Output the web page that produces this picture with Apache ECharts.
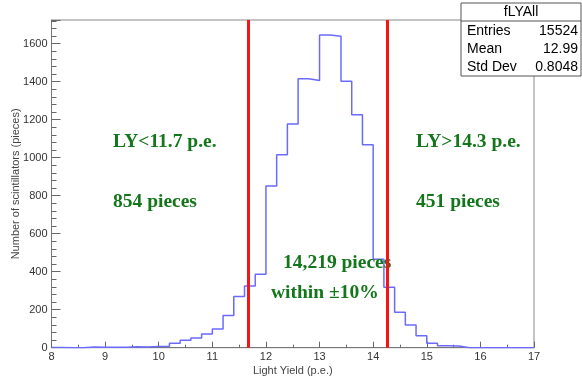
<!DOCTYPE html>
<html>
<head>
<meta charset="utf-8">
<script src="https://cdn.jsdelivr.net/npm/echarts@6/dist/echarts.min.js"></script>
<style>
	html, body { margin: 0; padding: 0; background: #fff; }
	#chart { width: 582px; height: 378px; }
</style>
</head>
<body>
<div id="chart"></div>
<script>
// histogram fLYAll: 0.2 p.e. bins from 8 to 17
const binStart = 8.0;
const binWidth = 0.2;
const counts = [
	1, 0, 0, 4, 3, 2, 2, 5, 4, 6,
	8, 23, 39, 51, 72, 98, 170, 270, 325, 386,
	851, 1016, 1177, 1416, 1407, 1646, 1640, 1402, 1226, 1068,
	465, 318, 186, 119, 63, 23, 10, 9, 0, 0,
	0, 0, 0, 0, 0
];
const cuts = [11.67, 14.26];
const statsRows = [
	["Entries", "15524"],
	["Mean", "12.99"],
	["Std Dev", "0.8048"]
];
const notes = [
	{ text: "LY<11.7 p.e.", x: 113, y: 142 },
	{ text: "854 pieces", x: 113, y: 202 },
	{ text: "LY>14.3 p.e.", x: 416, y: 142 },
	{ text: "451 pieces", x: 416, y: 202 },
	{ text: "14,219 pieces", x: 283, y: 263 },
	{ text: "within \u00b110%", x: 271, y: 293 }
];

// step line points: left edge of every bin, plus the last edge
const histPoints = counts.map((c, i) => [+(binStart + i * binWidth).toFixed(1), c]);
histPoints.push([+(binStart + counts.length * binWidth).toFixed(1), counts[counts.length - 1]]);

const myChart = echarts.init(document.getElementById("chart"));

const sans = "Liberation Sans";
const green = "#13761a";

function statsBox() {
	const left = 461, top = 3, w = 120;
	const els = [
		{ type: "rect", shape: { x: left, y: top, width: w, height: 73 },
			style: { fill: "#fff", stroke: "#555", lineWidth: 1 } },
		{ type: "line", shape: { x1: left, y1: 21, x2: left + w, y2: 21 },
			style: { stroke: "#555", lineWidth: 1 } },
		{ type: "text", x: left + w / 2, y: 12,
			style: { text: "fLYAll", font: "14px " + sans, fill: "#000", align: "center", verticalAlign: "middle" } }
	];
	statsRows.forEach((r, i) => {
		const y = 31 + i * 18;
		els.push({ type: "text", x: left + 6, y: y,
			style: { text: r[0], font: "14px " + sans, fill: "#000", align: "left", verticalAlign: "middle" } });
		els.push({ type: "text", x: left + w - 3, y: y,
			style: { text: r[1], font: "14px " + sans, fill: "#000", align: "right", verticalAlign: "middle" } });
	});
	return { type: "group", z: 20, children: els };
}

const option = {
	animation: false,
	grid: {
		left: 51.5, right: 48, top: 20, bottom: 30.3,
		containLabel: false, outerBoundsMode: "none",
		show: true, borderColor: "#888", borderWidth: 1
	},
	xAxis: {
		type: "value", min: 8, max: 17, interval: 1,
		name: "Light Yield (p.e.)", nameLocation: "middle", nameGap: 18, nameMoveOverlap: false,
		nameTextStyle: { fontFamily: sans, fontSize: 11, color: "#444" },
		axisLine: { onZero: false, lineStyle: { color: "#777", width: 1 } },
		axisTick: { inside: true, length: 6, lineStyle: { color: "#666" } },
		minorTick: { show: true, splitNumber: 2, length: 3, lineStyle: { color: "#666" } },
		axisLabel: { fontFamily: sans, fontSize: 11, color: "#333", margin: 4 },
		splitLine: { show: false }
	},
	yAxis: {
		type: "value", min: 0, max: 1725, interval: 200,
		name: "Number of scintillators (pieces)", nameLocation: "middle", nameGap: 30.5, nameMoveOverlap: false,
		nameTextStyle: { fontFamily: sans, fontSize: 11, color: "#444" },
		axisLine: { show: true, lineStyle: { color: "#777", width: 1 } },
		axisTick: { inside: true, length: 9, lineStyle: { color: "#666" } },
		minorTick: { show: true, splitNumber: 5, length: 5, lineStyle: { color: "#666" } },
		axisLabel: { fontFamily: sans, fontSize: 11, color: "#333", margin: 4, showMaxLabel: false,
			formatter: v => String(v) },
		splitLine: { show: false }
	},
	graphic: notes.map(n => ({
		type: "text", x: n.x, y: n.y, z: 3,
		style: { text: n.text, font: "bold 19.5px 'Liberation Serif'", fill: green, align: "left", verticalAlign: "middle" }
	})).concat([statsBox()]),
	series: [
		{
			type: "line", step: "end", data: histPoints, symbol: "none", z: 2,
			lineStyle: { color: "#6a6aff", width: 1.5 }
		},
		{
			type: "line", data: [], z: 5,
			markLine: {
				silent: true, symbol: "none", animation: false,
				label: { show: false },
				lineStyle: { color: "#f51515", width: 3, type: "solid" },
				data: cuts.map(c => ({ xAxis: c }))
			}
		}
	]
};

myChart.setOption(option);
</script>
</body>
</html>
